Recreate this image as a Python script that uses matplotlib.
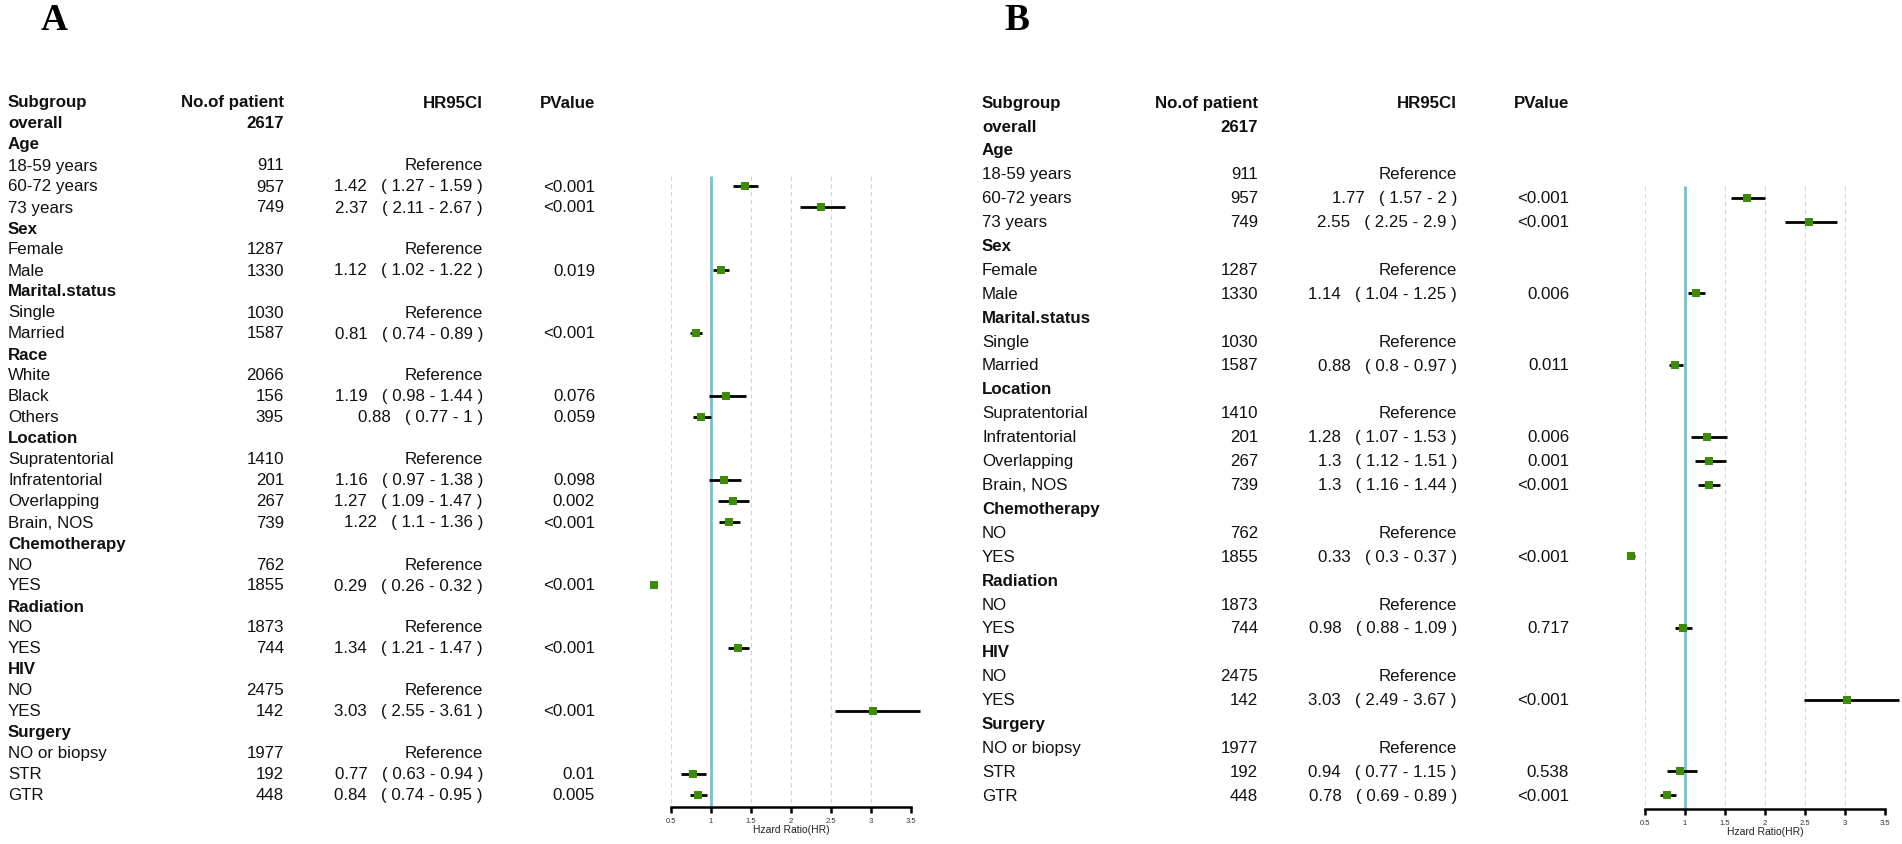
import matplotlib
matplotlib.use("Agg")
import matplotlib.pyplot as plt
import matplotlib.transforms as mtransforms

plt.rcParams['font.family'] = ['Liberation Sans', 'DejaVu Sans']

# ---- data: panel A ----
a_labels = ["overall", "Age", "18-59 years", "60-72 years", "73 years",
            "Sex", "Female", "Male", "Marital.status", "Single", "Married",
            "Race", "White", "Black", "Others",
            "Location", "Supratentorial", "Infratentorial", "Overlapping", "Brain, NOS",
            "Chemotherapy", "NO", "YES", "Radiation", "NO", "YES",
            "HIV", "NO", "YES", "Surgery", "NO or biopsy", "STR", "GTR"]
a_n = ["2617", "", "911", "957", "749", "", "1287", "1330", "", "1030", "1587",
       "", "2066", "156", "395", "", "1410", "201", "267", "739",
       "", "762", "1855", "", "1873", "744", "", "2475", "142", "", "1977", "192", "448"]
a_hr = [None, None, "ref", 1.42, 2.37, None, "ref", 1.12, None, "ref", 0.81,
        None, "ref", 1.19, 0.88, None, "ref", 1.16, 1.27, 1.22,
        None, "ref", 0.29, None, "ref", 1.34, None, "ref", 3.03, None, "ref", 0.77, 0.84]
a_lo = [None, None, None, 1.27, 2.11, None, None, 1.02, None, None, 0.74,
        None, None, 0.98, 0.77, None, None, 0.97, 1.09, 1.1,
        None, None, 0.26, None, None, 1.21, None, None, 2.55, None, None, 0.63, 0.74]
a_hi = [None, None, None, 1.59, 2.67, None, None, 1.22, None, None, 0.89,
        None, None, 1.44, 1, None, None, 1.38, 1.47, 1.36,
        None, None, 0.32, None, None, 1.47, None, None, 3.61, None, None, 0.94, 0.95]
a_p = ["", "", "", "<0.001", "<0.001", "", "", "0.019", "", "", "<0.001",
       "", "", "0.076", "0.059", "", "", "0.098", "0.002", "<0.001",
       "", "", "<0.001", "", "", "<0.001", "", "", "<0.001", "", "", "0.01", "0.005"]

# ---- data: panel B ----
b_labels = ["overall", "Age", "18-59 years", "60-72 years", "73 years",
            "Sex", "Female", "Male", "Marital.status", "Single", "Married",
            "Location", "Supratentorial", "Infratentorial", "Overlapping", "Brain, NOS",
            "Chemotherapy", "NO", "YES", "Radiation", "NO", "YES",
            "HIV", "NO", "YES", "Surgery", "NO or biopsy", "STR", "GTR"]
b_n = ["2617", "", "911", "957", "749", "", "1287", "1330", "", "1030", "1587",
       "", "1410", "201", "267", "739", "", "762", "1855", "", "1873", "744",
       "", "2475", "142", "", "1977", "192", "448"]
b_hr = [None, None, "ref", 1.77, 2.55, None, "ref", 1.14, None, "ref", 0.88,
        None, "ref", 1.28, 1.3, 1.3, None, "ref", 0.33, None, "ref", 0.98,
        None, "ref", 3.03, None, "ref", 0.94, 0.78]
b_lo = [None, None, None, 1.57, 2.25, None, None, 1.04, None, None, 0.8,
        None, None, 1.07, 1.12, 1.16, None, None, 0.3, None, None, 0.88,
        None, None, 2.49, None, None, 0.77, 0.69]
b_hi = [None, None, None, 2, 2.9, None, None, 1.25, None, None, 0.97,
        None, None, 1.53, 1.51, 1.44, None, None, 0.37, None, None, 1.09,
        None, None, 3.67, None, None, 1.15, 0.89]
b_p = ["", "", "", "<0.001", "<0.001", "", "", "0.006", "", "", "0.011",
       "", "", "0.006", "0.001", "<0.001", "", "", "<0.001", "", "", "0.717",
       "", "", "<0.001", "", "", "0.538", "<0.001"]

bold_rows = {"overall", "Age", "Sex", "Marital.status", "Race", "Location",
             "Chemotherapy", "Radiation", "HIV", "Surgery"}
x_ticks = [0.5, 1, 1.5, 2, 2.5, 3, 3.5]
x_ticklabels = ["0.5", "1", "1.5", "2", "2.5", "3", "3.5"]

W, H = 1902, 845
fig = plt.figure(figsize=(W / 100, H / 100), dpi=100)

GREEN = "#3d8b07"
CYAN = "#6cc4d8"
FS = 12.2


def fmt(v):
    return ("%.2f" % v).rstrip("0").rstrip(".")


def panel(letter, x0, letter_x, top, step, axis_y, labels, n, hr, lo, hi, p):
    # x0: left edge of subgroup column (px), rows centred at top + i*step (px)
    nrows = len(labels)
    y_bottom = (axis_y - top) / step  # row value at the axis line
    ax_left = x0 + 663
    ax = fig.add_axes([ax_left / W, 1 - axis_y / H, 240 / W,
                       (axis_y - (top - step / 2)) / H])
    ax.set_xlim(0.5, 3.5)
    ax.set_ylim(y_bottom, -0.5)
    for s in ["left", "right", "top"]:
        ax.spines[s].set_visible(False)
    ax.spines["bottom"].set_linewidth(1.8)
    ax.set_yticks([])
    ax.set_xticks(x_ticks)
    ax.set_xticklabels(x_ticklabels, fontsize=5.5, color="#333333")
    ax.tick_params(axis="x", length=4, width=1.8, pad=3)
    ax.set_xlabel("Hzard Ratio(HR)", fontsize=7.5, labelpad=0, color="#222222")
    ax.patch.set_visible(False)

    first = 2.5  # lines start at the top of the first estimated row
    for t in x_ticks:
        if t != 1:
            ax.vlines(t, first, y_bottom, colors="#d4d4d4", linestyles=(0, (4, 3)),
                      linewidth=0.8, zorder=1)
    ax.vlines(1, first, y_bottom, colors=CYAN, linewidth=2.0, zorder=2)

    tr = mtransforms.blended_transform_factory(fig.transFigure, ax.transData)

    def tx(px, row, s, ha, bold=False):
        fig.text(px / W, row, s, transform=tr, ha=ha, va="center", fontsize=FS,
                 fontweight="bold" if bold else "normal", color="#111111")

    # header
    tx(x0, -1, "Subgroup", "left", True)
    tx(x0 + 276, -1, "No.of patient", "right", True)
    tx(x0 + 475, -1, "HR95CI", "right", True)
    tx(x0 + 587, -1, "PValue", "right", True)

    for i in range(nrows):
        r = i
        b = labels[i] in bold_rows and (i == 0 or n[i] == "")
        tx(x0, r, labels[i], "left", b)
        if n[i]:
            tx(x0 + 276, r, n[i], "right", labels[i] == "overall")
        if hr[i] == "ref":
            tx(x0 + 475, r, "Reference", "right")
        elif hr[i] is not None:
            tx(x0 + 475, r, "%s   ( %s - %s )" % (fmt(hr[i]), fmt(lo[i]), fmt(hi[i])), "right")
            ax.hlines(r, lo[i], hi[i], colors="black", linewidth=2.0, zorder=3,
                      clip_on=False)
            ax.plot(hr[i], r, marker="s", markersize=6, color=GREEN,
                    markeredgewidth=0, zorder=4, clip_on=False)
        if p[i]:
            tx(x0 + 587, r, p[i], "right")

    fig.text(letter_x / W, 1 - 20 / H, letter, ha="center", va="center",
             fontsize=27, fontweight="bold", family="Liberation Serif")


# rows are indexed from 0 = "overall"; header sits one row above
panel("A", 8, 54, 124, 21.0, 808, a_labels, a_n, a_hr, a_lo, a_hi, a_p)
panel("B", 982, 1017, 127, 23.9, 810, b_labels, b_n, b_hr, b_lo, b_hi, b_p)

fig.savefig("out.png", dpi=100, facecolor="white")
